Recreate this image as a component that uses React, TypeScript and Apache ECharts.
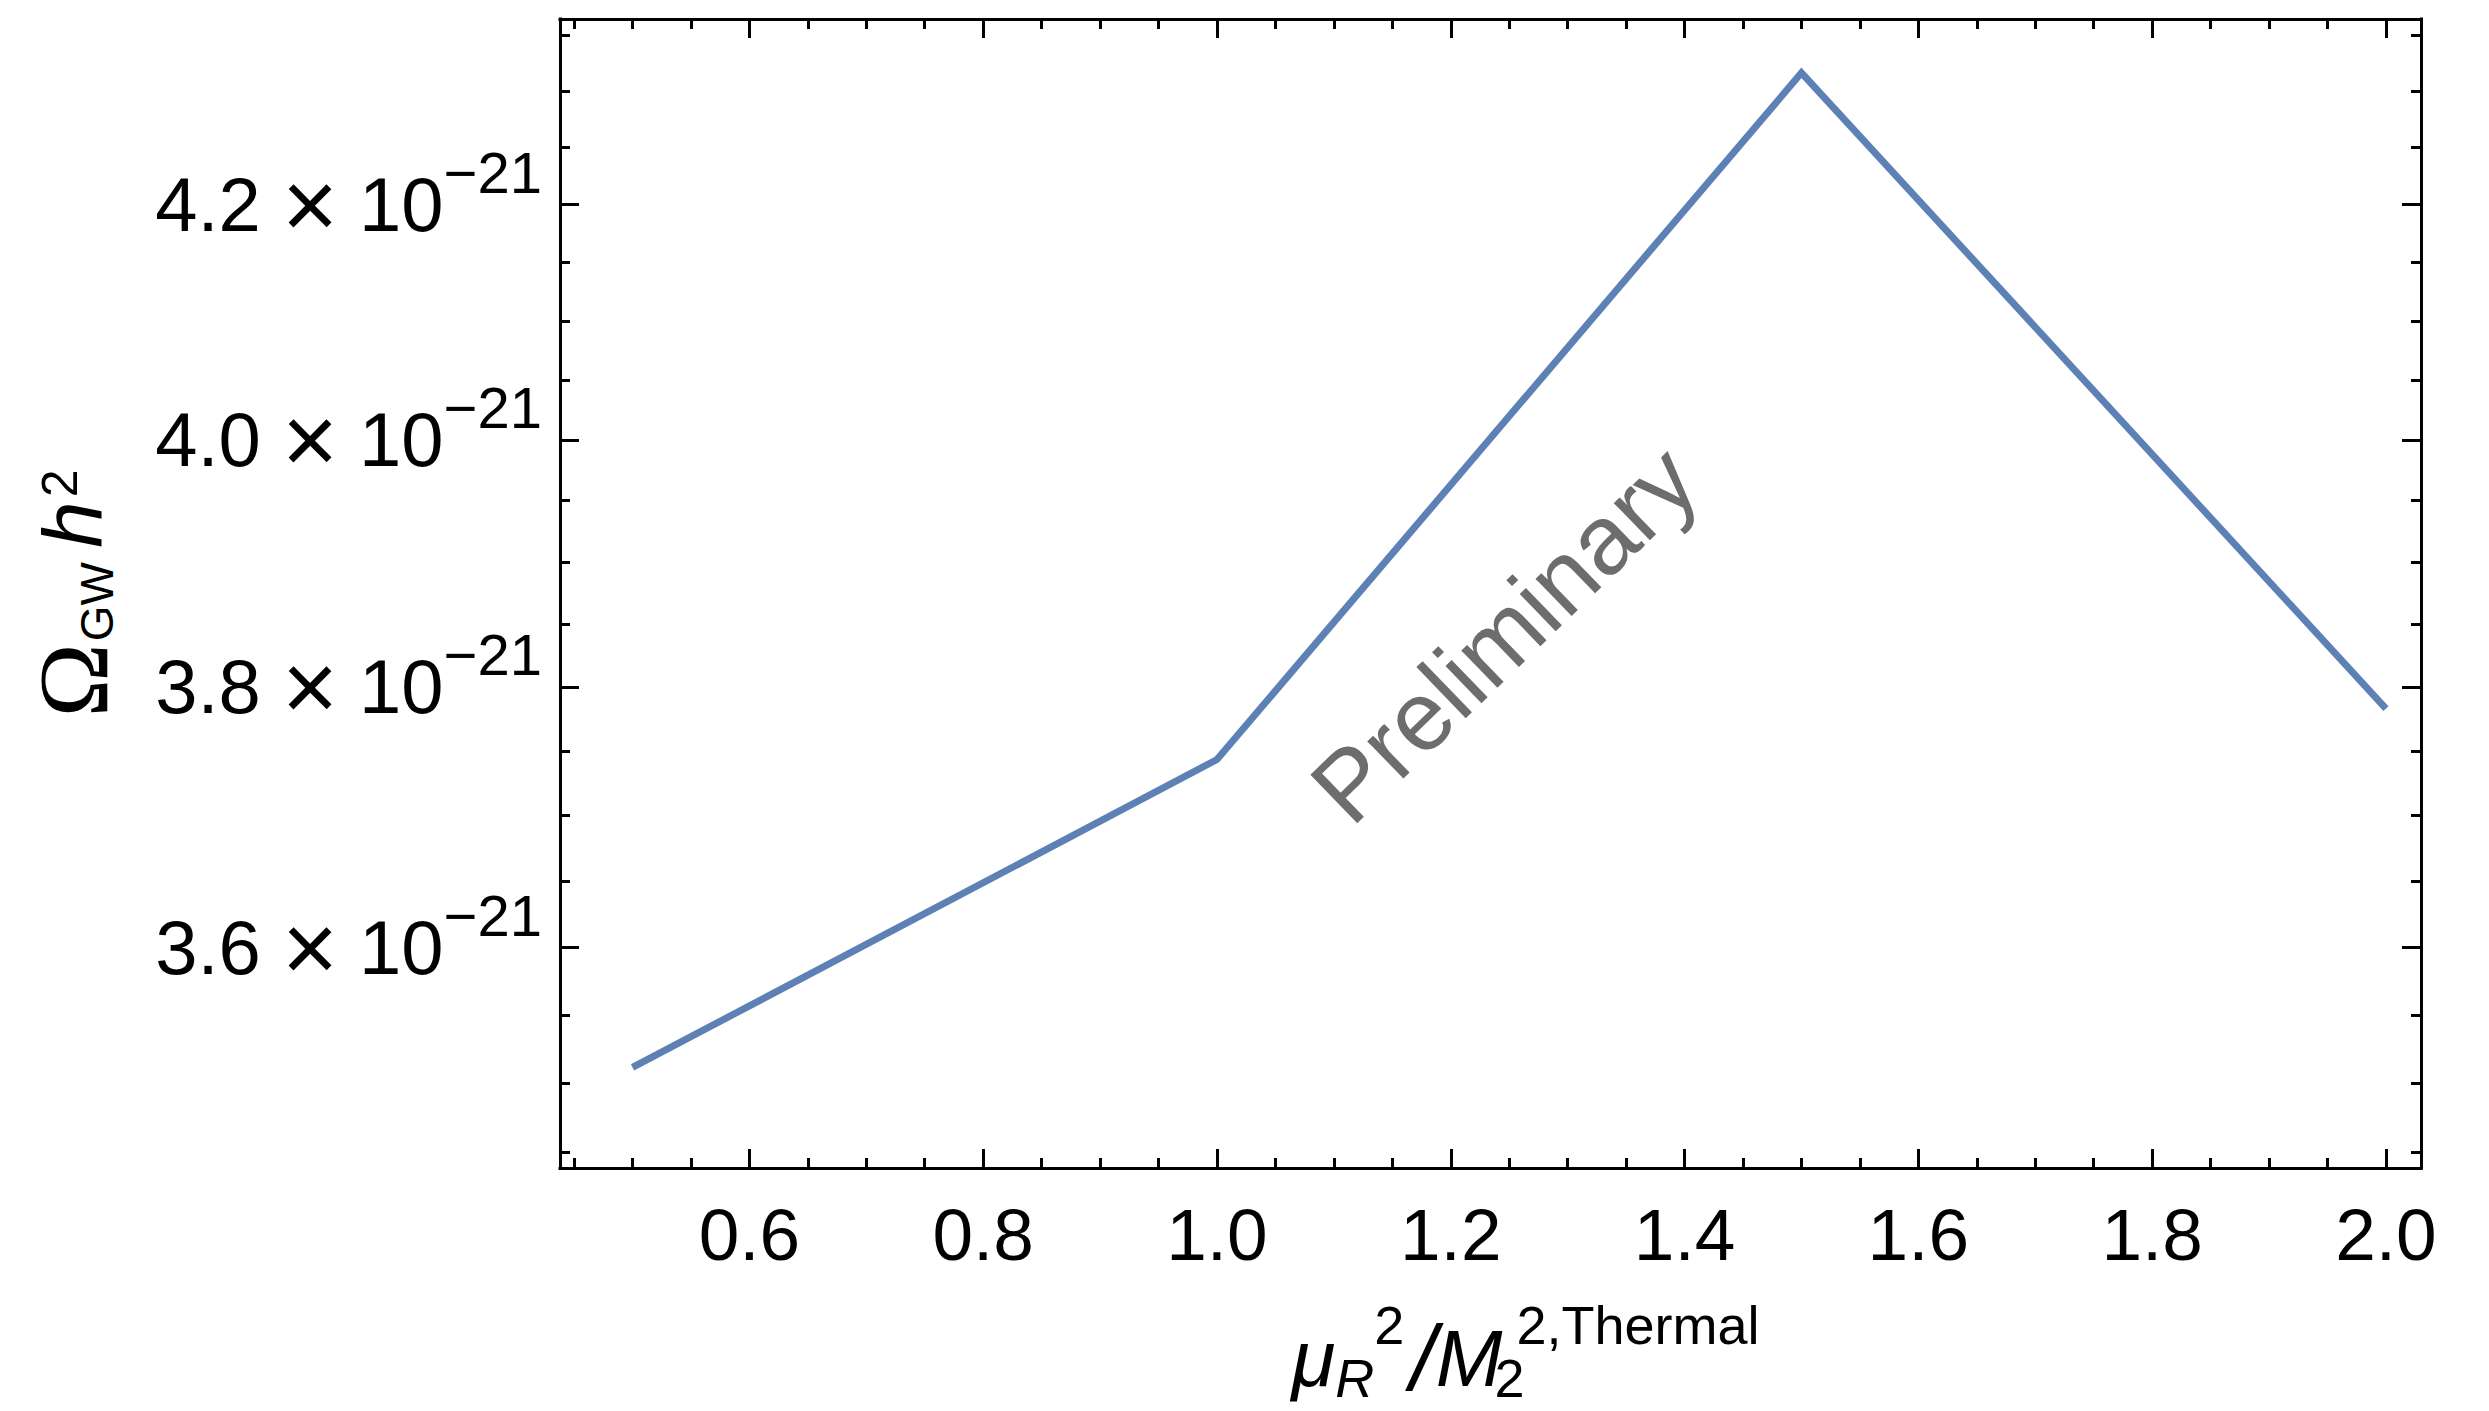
import React, { useEffect, useRef } from "react";
import * as echarts from "echarts";

// ---- data ----
const xValues = [0.5, 1.0, 1.5, 2.0];
// Omega_GW h^2 in units of 10^-21
const omegaMantissa = [3.5115, 3.7432, 4.3165, 3.783];
const omegaExponent = "−21";

const xRange = [0.438, 2.03];
const yRange = [3.439, 4.365]; // mantissa range of the (logarithmic) y axis

const xMajorTicks = [0.6, 0.8, 1.0, 1.2, 1.4, 1.6, 1.8, 2.0];
const xMinorTicks = [
  0.45, 0.5, 0.55, 0.65, 0.7, 0.75, 0.85, 0.9, 0.95, 1.05, 1.1, 1.15, 1.25, 1.3,
  1.35, 1.45, 1.5, 1.55, 1.65, 1.7, 1.75, 1.85, 1.9, 1.95,
];
const yMajorTicks = [3.6, 3.8, 4.0, 4.2];
const yMinorTicks = [
  3.45, 3.5, 3.55, 3.65, 3.7, 3.75, 3.85, 3.9, 3.95, 4.05, 4.1, 4.15, 4.25, 4.3,
  4.35,
];
const watermarkText = "Preliminary";

// ---- styling ----
const SANS = '"Liberation Sans", Arial, sans-serif';
const SERIF = '"Liberation Serif", "Times New Roman", serif';
const LINE_COLOR = "#5E81B5";
const MAJOR_LEN = 19;
const MINOR_LEN = 10;

const lg = (v: number) => Math.log10(v);

function makeXAxis(position: string, ticks: number[], len: number, labels: boolean, line: boolean, name?: any) {
  const ax: any = {
    type: "value",
    position,
    min: xRange[0],
    max: xRange[1],
    axisLine: { show: line, onZero: false, lineStyle: { color: "#000", width: 3, cap: "square" } },
    axisTick: { show: true, inside: true, length: len, customValues: ticks, lineStyle: { color: "#000", width: 3 } },
    axisLabel: {
      show: labels,
      customValues: ticks,
      margin: 30,
      color: "#000",
      fontFamily: SANS,
      fontSize: 73,
      formatter: (v: number) => v.toFixed(1),
    },
    splitLine: { show: false },
  };
  if (name) Object.assign(ax, name);
  return ax;
}

function makeYAxis(position: string, ticks: number[], len: number, labels: boolean, line: boolean, name?: any) {
  const vals = ticks.map(lg);
  const ax: any = {
    type: "value",
    position,
    min: lg(yRange[0]),
    max: lg(yRange[1]),
    axisLine: { show: line, onZero: false, lineStyle: { color: "#000", width: 3, cap: "square" } },
    axisTick: { show: true, inside: true, length: len, customValues: vals, lineStyle: { color: "#000", width: 3 } },
    axisLabel: {
      show: labels,
      customValues: vals,
      margin: 18,
      color: "#000",
      formatter: (v: number) =>
        `{m|${Math.pow(10, v).toFixed(1)} }{x|×}{m| 10}{s|${omegaExponent}}`,
      rich: {
        m: { fontFamily: SANS, fontSize: 76, color: "#000", verticalAlign: "middle" },
        x: { fontFamily: SANS, fontSize: 96, color: "#000", verticalAlign: "middle" },
        s: { fontFamily: SANS, fontSize: 58, color: "#000", verticalAlign: "middle", padding: [0, 0, 64, 0] },
      },
    },
    splitLine: { show: false },
  };
  if (name) Object.assign(ax, name);
  return ax;
}

const xName = {
  name: "{mu|μ}{rs|R}{sp|2}{sl|/}{M|M}{ms|2}{tp|2,Thermal}",
  nameLocation: "middle",
  nameGap: 130,
  nameTextStyle: {
    padding: [0, 0, 0, 70],
    rich: {
      mu: { fontFamily: SANS, fontSize: 80, fontStyle: "italic", color: "#000", verticalAlign: "middle" },
      rs: { fontFamily: SANS, fontSize: 54, fontStyle: "italic", color: "#000", verticalAlign: "middle", padding: [40, 0, 0, 0] },
      sp: { fontFamily: SANS, fontSize: 54, color: "#000", verticalAlign: "middle", padding: [0, 6, 66, 0] },
      sl: { fontFamily: SANS, fontSize: 92, fontStyle: "italic", color: "#000", verticalAlign: "middle" },
      M: { fontFamily: SANS, fontSize: 80, fontStyle: "italic", color: "#000", verticalAlign: "middle" },
      ms: { fontFamily: SANS, fontSize: 54, color: "#000", verticalAlign: "middle", padding: [40, 0, 0, 0], width: 14 },
      tp: { fontFamily: SANS, fontSize: 54, color: "#000", verticalAlign: "middle", padding: [0, 0, 66, 0] },
    },
  },
};

const yName = {
  name: "{om|Ω}{gw|GW}{h|h}{two|2}",
  nameLocation: "middle",
  nameGap: 437,
  nameRotate: 90,
  nameTextStyle: {
    rich: {
      om: { fontFamily: SERIF, fontSize: 100, color: "#000", verticalAlign: "middle" },
      gw: { fontFamily: SANS, fontSize: 46, color: "#000", verticalAlign: "middle", padding: [48, 0, 0, 2] },
      h: { fontFamily: SANS, fontSize: 84, fontStyle: "italic", color: "#000", verticalAlign: "middle", padding: [0, 0, 0, 14] },
      two: { fontFamily: SANS, fontSize: 50, color: "#000", verticalAlign: "middle", padding: [0, 0, 26, 4] },
    },
  },
};

export default function App() {
  const ref = useRef<HTMLDivElement>(null);

  useEffect(() => {
    document.body.style.margin = "0";
    document.body.style.overflow = "hidden";
    const chart = echarts.init(ref.current!, null, { renderer: "svg" });
    const option: any = {
      animation: false,
      backgroundColor: "#fff",
      grid: { left: 560, right: 68, top: 19, bottom: 243, containLabel: false, outerBoundsMode: "none" },
      xAxis: [
        makeXAxis("bottom", xMajorTicks, MAJOR_LEN, true, true, xName),
        makeXAxis("bottom", xMinorTicks, MINOR_LEN, false, false),
        makeXAxis("top", xMajorTicks, MAJOR_LEN, false, true),
        makeXAxis("top", xMinorTicks, MINOR_LEN, false, false),
      ],
      yAxis: [
        makeYAxis("left", yMajorTicks, MAJOR_LEN, true, true, yName),
        makeYAxis("left", yMinorTicks, MINOR_LEN, false, false),
        makeYAxis("right", yMajorTicks, MAJOR_LEN, false, true),
        makeYAxis("right", yMinorTicks, MINOR_LEN, false, false),
      ],
      series: [
        {
          type: "line",
          xAxisIndex: 0,
          yAxisIndex: 0,
          data: xValues.map((x, i) => [x, lg(omegaMantissa[i])]),
          showSymbol: false,
          symbol: "none",
          lineStyle: { color: LINE_COLOR, width: 7, join: "miter" },
          z: 3,
        },
      ],
      graphic: [
        {
          type: "text",
          x: 1504,
          y: 634,
          rotation: (44 * Math.PI) / 180,
          z: 10,
          style: {
            text: watermarkText,
            fontFamily: SANS,
            fontSize: 98,
            fill: "#6d6d6d",
            align: "center",
            verticalAlign: "middle",
          },
        },
      ],
    };
    chart.setOption(option);
    return () => chart.dispose();
  }, []);

  return <div ref={ref} style={{ width: 2489, height: 1411 }} />;
}
